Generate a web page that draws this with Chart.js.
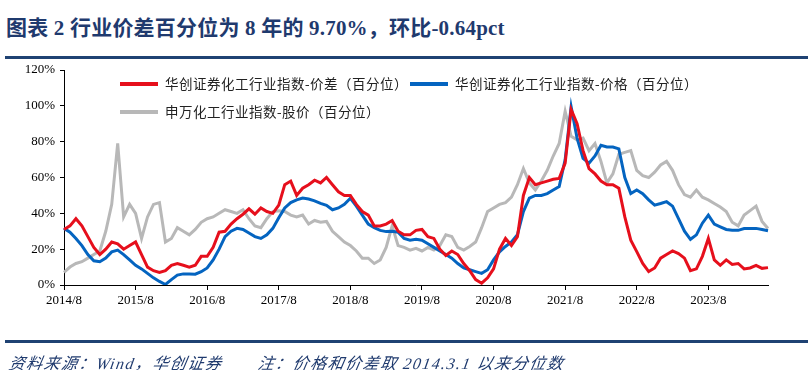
<!DOCTYPE html>
<html>
<head>
<meta charset="utf-8">
<script src="https://cdn.jsdelivr.net/npm/chart.js@4.4.1/dist/chart.umd.min.js"></script>
<style>
  body { margin: 0; background: #fff; }
  #wrap { position: relative; width: 811px; height: 370px; overflow: hidden; }
  #title {
    position: absolute; left: 6px; top: 11px; white-space: nowrap;
    font: bold 21px "Liberation Serif", "Noto Sans CJK SC", serif;
    color: #1f3a6e; letter-spacing: 0.2px;
  }
  .rule { position: absolute; left: 5px; width: 803px; height: 3px; background: #1f4273; }
  .note {
    position: absolute; top: 350px; white-space: nowrap;
    font: italic 16px "Liberation Serif", "Noto Sans CJK SC", serif;
    color: #1f3a6e; letter-spacing: 1.5px;
    transform: skewX(-10deg); transform-origin: left bottom;
  }
  #box { position: absolute; left: 0; top: 0; width: 811px; height: 370px; }
</style>
</head>
<body>
<div id="wrap">
  <div id="title">图表 2 行业价差百分位为 8 年的 9.70%，环比-0.64pct</div>
  <div class="rule" style="top:56px"></div>
  <div id="box"><canvas id="grafico"></canvas></div>
  <div class="rule" style="top:340px"></div>
  <div class="note" style="left:7px">资料来源：Wind，华创证券</div>
  <div class="note" style="left:256px">注：价格和价差取 2014.3.1 以来分位数</div>
</div>
<script>
// monthly points from 2014/8 to 2024/6
const startYear = 2014, startMonth = 8, monthCount = 119;
const tickLabels = ['2014/8', '2015/8', '2016/8', '2017/8', '2018/8', '2019/8', '2020/8', '2021/8', '2022/8', '2023/8'];
const yTicks = [0, 20, 40, 60, 80, 100, 120];

const seriesNames = [
  '华创证券化工行业指数-价差（百分位）',
  '华创证券化工行业指数-价格（百分位）',
  '申万化工行业指数-股价（百分位）'
];

const spreadPct = [
  31, 33, 37, 33, 27, 21, 17, 20, 24, 23,
  20, 22, 24, 17, 10, 8, 7, 8, 11, 12,
  11, 10, 11, 16, 16, 21, 29.5, 30, 34, 37,
  39.5, 42.5, 39.5, 43, 41, 40, 44.6, 56, 58, 50,
  54, 56, 58.5, 57, 60, 56, 52, 50, 50, 45,
  41, 39, 33, 33, 34, 36, 30, 28, 28, 30.5,
  31, 27, 26, 20, 16.5, 19, 17, 12, 8, 3,
  1, 4, 9, 20, 26, 22, 27, 50, 60, 56,
  57, 58, 59, 59.5, 68, 98, 90, 75, 65, 62,
  58, 56, 56, 54, 38, 25, 18.6, 12, 7.5, 9.5,
  15, 17, 19, 17.5, 15, 8, 9, 16, 26, 14,
  11, 14, 11.5, 12, 9, 9.5, 11, 9.3, 9.7
];

const pricePct = [
  31.6, 29.5, 26, 22, 17, 13.5, 13, 15, 18.5, 19.5,
  17, 14, 11, 9, 6.5, 4, 2, 0.3, 3, 5.5,
  6.2, 6.2, 6, 7.4, 9.5, 14, 20, 27, 30, 31.6,
  31, 29, 27, 26, 28, 31.6, 37.5, 43, 46, 47.5,
  48.5, 48, 47, 45.6, 44.5, 42, 43, 45, 48.4, 44,
  39, 34, 32, 30.5, 29.8, 30, 29.5, 26, 25, 25.5,
  25, 23, 21, 19, 17, 15, 12, 9.5, 8.5, 7.5,
  6.5, 8.5, 14, 18.5, 21.5, 24, 28, 41, 48.5, 50,
  50, 51, 53, 55, 70, 99.5, 82, 70.7, 68, 72,
  78, 77, 77, 76, 60, 51, 53, 51, 47.5, 44.6,
  45.5, 46.5, 44, 37, 30, 25.5, 28, 34.5, 39, 34,
  32.5, 31, 30.5, 30.5, 31.5, 31.6, 31.6, 31, 30.3
];

const stockPct = [
  7, 10, 12, 13, 15, 17, 19, 30, 45, 79,
  38, 45, 40, 26, 38, 45, 46, 24, 26, 32,
  30, 28, 31, 35, 37, 38, 40, 42, 41, 40,
  42, 37, 33, 32, 37, 41, 41.5, 41, 39, 38,
  39, 34, 36, 35, 35.5, 30, 27, 24, 22, 19,
  15, 15, 12, 14, 21, 33, 22, 21, 19.5, 20.5,
  19, 21, 19.5, 22, 28, 27, 21, 19.5, 21.5, 24,
  32, 41, 43, 45, 46, 49, 56, 65, 57, 53,
  58, 64, 72, 79, 97, 83, 81, 82, 75, 79,
  69, 57, 62, 73, 74, 75, 64, 61, 60, 63,
  67, 69, 64, 56, 50.5, 49, 53, 49, 47.5, 45.5,
  43.5, 41, 35, 33, 39, 41.5, 44, 35.5, 31.5
];

const months = [];
for (let i = 0; i < monthCount; i++) {
  const m = startMonth - 1 + i;
  months.push((startYear + Math.floor(m / 12)) + '/' + (m % 12 + 1));
}

const cores = ['#e60f1c', '#0464c0', '#b8b8b8'];
const serif = '"Liberation Serif", "Times New Roman", serif';

// legend drawn inside the plot, two rows like the original
const legendaInterna = {
  id: 'legendaInterna',
  afterDatasetsDraw(chart) {
    const ctx = chart.ctx;
    const spots = [[120, 84], [410, 84], [120, 112]];
    ctx.save();
    chart.data.datasets.forEach((ds, i) => {
      const [x, y] = spots[i];
      ctx.strokeStyle = ds.borderColor;
      ctx.lineWidth = 4;
      ctx.beginPath();
      ctx.moveTo(x, y);
      ctx.lineTo(x + 38, y);
      ctx.stroke();
      ctx.fillStyle = '#222';
      ctx.font = '13.5px "Liberation Serif", "Noto Sans CJK SC", serif';
      ctx.letterSpacing = '0.5px';
      ctx.textBaseline = 'middle';
      ctx.fillText(ds.label, x + 45, y + 1);
    });
    ctx.restore();
  }
};

new Chart(document.getElementById('grafico'), {
  type: 'line',
  data: {
    labels: months,
    datasets: [
      { label: seriesNames[0], data: spreadPct, borderColor: cores[0] },
      { label: seriesNames[1], data: pricePct, borderColor: cores[1] },
      { label: seriesNames[2], data: stockPct, borderColor: cores[2] }
    ].map(d => Object.assign(d, { borderWidth: 3, pointRadius: 0, tension: 0, fill: false }))
  },
  options: {
    responsive: true,
    maintainAspectRatio: false,
    animation: false,
    layout: { padding: { left: 0, top: 70, right: 43, bottom: 60 } },
    plugins: { legend: { display: false }, tooltip: { enabled: false } },
    scales: {
      x: {
        offset: false,
        afterFit: s => { s.height = 25; },
        grid: { display: true, drawOnChartArea: false, tickLength: 5, color: '#000', offset: false },
        border: { color: '#000', width: 1 },
        ticks: {
          autoSkip: false, maxRotation: 0, padding: 3, color: '#000',
          font: { family: serif, size: 13 },
          callback: (v, i) => tickLabels.includes(months[i]) ? months[i] : null
        }
      },
      y: {
        min: 0, max: 120,
        afterFit: s => { s.width = 64; },
        afterBuildTicks: s => { s.ticks = yTicks.map(v => ({ value: v })); },
        grid: { display: true, drawOnChartArea: false, tickLength: 4, color: '#000' },
        border: { color: '#000', width: 1 },
        ticks: {
          padding: 5, color: '#000',
          font: { family: serif, size: 13 },
          callback: v => v + '%'
        }
      }
    }
  },
  plugins: [legendaInterna]
});
</script>
</body>
</html>
